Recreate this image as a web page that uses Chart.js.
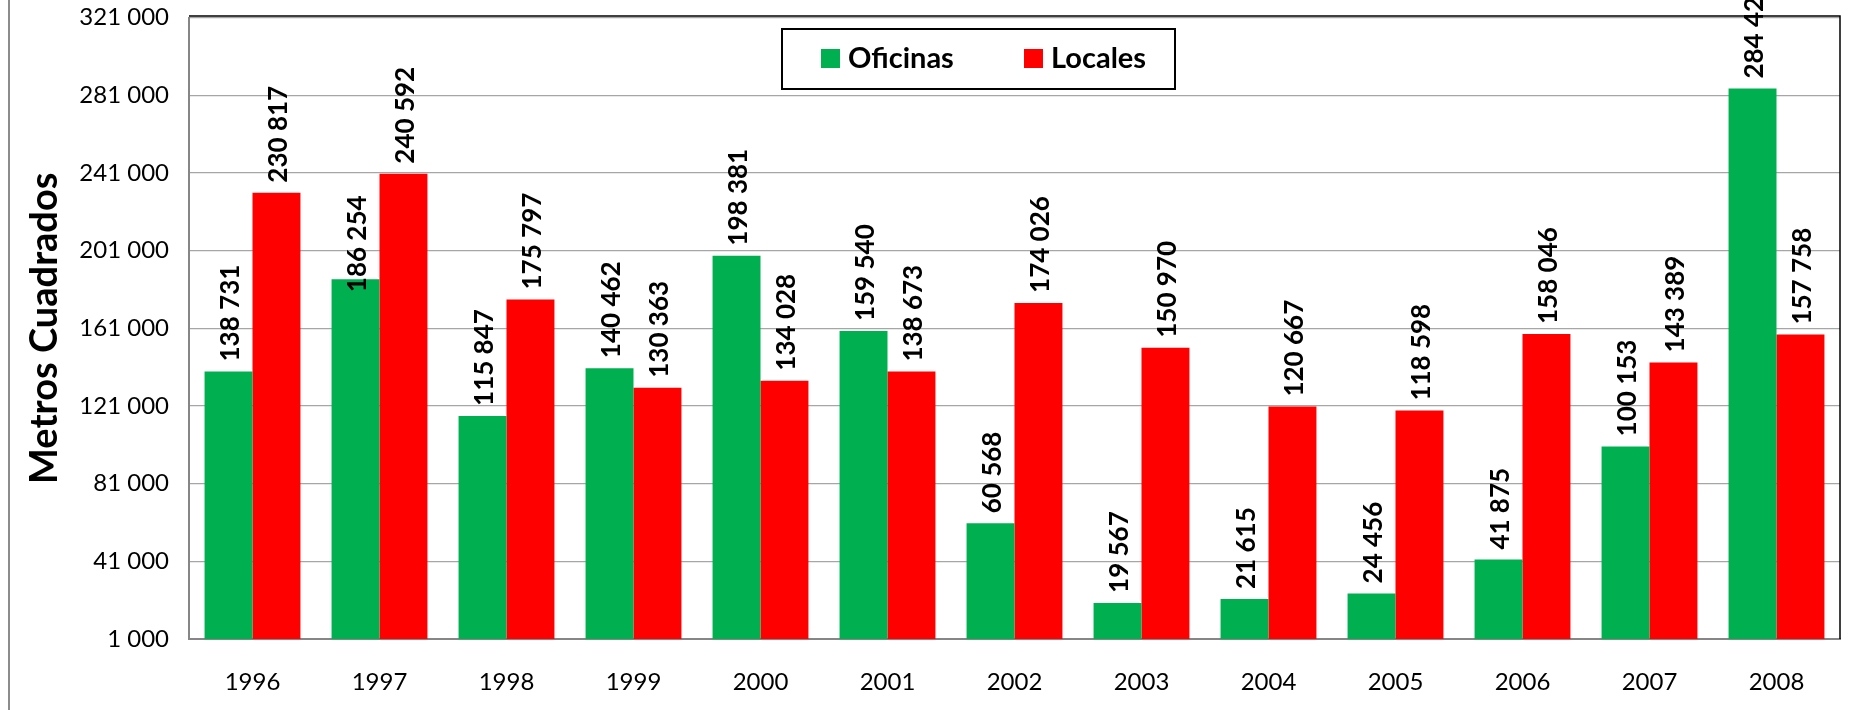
<!DOCTYPE html>
<html>
<head>
<meta charset="utf-8">
<script src="https://cdn.jsdelivr.net/npm/chart.js@4/dist/chart.umd.min.js"></script>
<style>
  html, body { margin: 0; padding: 0; background: #fff; }
  #wrap { width: 1854px; height: 710px; position: relative; }
</style>
</head>
<body>
<div id="wrap"><canvas id="chart"></canvas></div>
<script>
const years = ['1996', '1997', '1998', '1999', '2000', '2001', '2002', '2003', '2004', '2005', '2006', '2007', '2008'];
const oficinas = [138731, 186254, 115847, 140462, 198381, 159540, 60568, 19567, 21615, 24456, 41875, 100153, 284420];
const locales = [230817, 240592, 175797, 130363, 134028, 138673, 174026, 150970, 120667, 118598, 158046, 143389, 157758];
const seriesNames = ['Oficinas', 'Locales'];
const yMin = 1000, yMax = 321000, yStep = 40000;

const green = '#00B050';
const red = '#FF0000';
const fontFamily = 'Lato, "Open Sans", sans-serif';

function fmt(v) {
    return String(v).replace(/\B(?=(\d{3})+(?!\d))/g, ' ');
}

// value labels rotated, above each bar
const barLabels = {
    id: 'barLabels',
    afterDatasetsDraw(chart, args, opts) {
        const ctx = chart.ctx;
        ctx.save();
        ctx.font = 'bold 26px ' + fontFamily;
        ctx.fillStyle = '#000';
        ctx.textAlign = 'left';
        ctx.textBaseline = 'middle';
        chart.data.datasets.forEach((ds, di) => {
            chart.getDatasetMeta(di).data.forEach((bar, i) => {
                let gap = 10;
                const shift = opts.shift[di + ':' + i];
                if (shift) gap += shift;
                ctx.save();
                ctx.translate(bar.x + 2, bar.y - gap);
                ctx.rotate(-Math.PI / 2);
                ctx.fillText(fmt(ds.data[i]), 0, 0);
                ctx.restore();
            });
        });
        ctx.restore();
    }
};

// frame, outer line and boxed legend
const decor = {
    id: 'decor',
    beforeDraw(chart) {
        const ctx = chart.ctx;
        ctx.save();
        ctx.fillStyle = '#fff';
        ctx.fillRect(0, 0, chart.width, chart.height);
        ctx.strokeStyle = '#8c8c8c';
        ctx.lineWidth = 2;
        ctx.beginPath();
        ctx.moveTo(9, 0);
        ctx.lineTo(9, chart.height);
        ctx.stroke();
        ctx.restore();
    },
    afterDraw(chart, args, opts) {
        const ctx = chart.ctx;
        const a = chart.chartArea;
        ctx.save();
        ctx.strokeStyle = '#000';
        ctx.lineWidth = 1.5;
        ctx.beginPath();
        ctx.moveTo(a.left, 16);
        ctx.lineTo(a.right, 16);
        ctx.lineTo(a.right, a.bottom);
        ctx.stroke();

        const L = opts.legend;
        ctx.fillStyle = '#fff';
        ctx.fillRect(L.x, L.y, L.w, L.h);
        ctx.lineWidth = 2;
        ctx.strokeRect(L.x, L.y, L.w, L.h);
        ctx.font = 'bold 29px ' + fontFamily;
        ctx.textBaseline = 'middle';
        ctx.textAlign = 'left';
        chart.data.datasets.forEach((ds, i) => {
            const x = L.items[i];
            const cy = L.y + L.h / 2;
            ctx.fillStyle = ds.backgroundColor;
            ctx.fillRect(x, cy - 10, 19, 19);
            ctx.fillStyle = '#000';
            ctx.fillText(ds.label, x + 27, cy);
        });
        ctx.restore();
    }
};

new Chart(document.getElementById('chart'), {
    type: 'bar',
    data: {
        labels: years,
        datasets: [
            { label: seriesNames[0], data: oficinas, backgroundColor: green },
            { label: seriesNames[1], data: locales, backgroundColor: red }
        ]
    },
    options: {
        responsive: true,
        maintainAspectRatio: false,
        animation: false,
        layout: { autoPadding: false, padding: { top: 17.5, right: 14, left: 0, bottom: 0 } },
        datasets: {
            bar: { barPercentage: 1, categoryPercentage: 0.755, borderWidth: 0 }
        },
        scales: {
            x: {
                grid: { display: false, drawTicks: false },
                border: { color: '#868686', width: 2 },
                ticks: {
                    color: '#000',
                    padding: 29,
                    font: { family: fontFamily, size: 24 }
                },
                afterFit(scale) {
                    scale.height = 71;
                    scale.paddingLeft = 0;
                    scale.paddingRight = 0;
                }
            },
            y: {
                min: yMin,
                max: yMax,
                grid: { color: '#a6a6a6', lineWidth: 1.2, drawTicks: false },
                border: { color: '#868686', width: 2 },
                ticks: {
                    stepSize: yStep,
                    color: '#000',
                    padding: 20,
                    font: { family: fontFamily, size: 24 },
                    callback: (v) => fmt(v)
                },
                title: {
                    display: true,
                    text: 'Metros Cuadrados',
                    color: '#000',
                    font: { family: fontFamily, size: 38, weight: 'bold' },
                    padding: { top: 22, bottom: 0 }
                },
                afterFit(scale) {
                    scale.width = 189;
                    scale.paddingTop = 0;
                    scale.paddingBottom = 0;
                }
            }
        },
        plugins: {
            legend: { display: false },
            tooltip: { enabled: false },
            barLabels: { shift: { '0:1': -23 } },
            decor: {
                legend: { x: 782, y: 29, w: 393, h: 60, items: [821, 1024] }
            }
        }
    },
    plugins: [barLabels, decor]
});
</script>
</body>
</html>
